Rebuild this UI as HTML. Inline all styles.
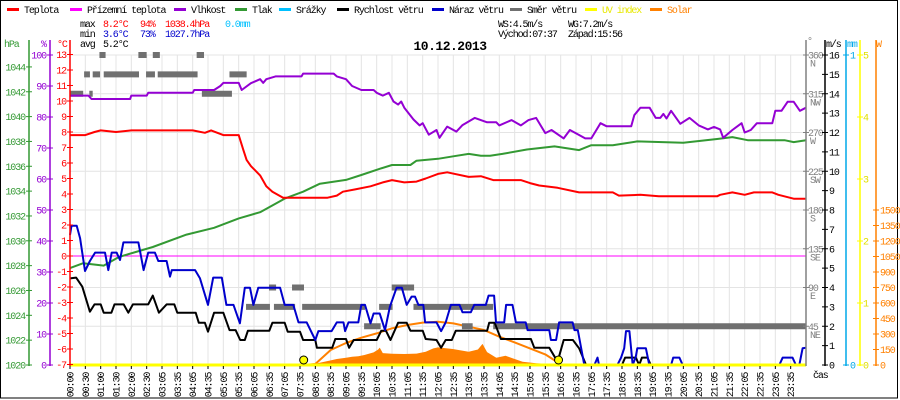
<!DOCTYPE html>
<html><head><meta charset="utf-8"><style>
html,body{margin:0;padding:0;background:#fff;}
svg{display:block;}
text{font-family:"Liberation Mono",monospace;font-size:10px;letter-spacing:-1.1px;}
</style></head><body>
<svg id="chart" width="900" height="400" viewBox="0 0 900 400" xmlns="http://www.w3.org/2000/svg">
<rect x="0.5" y="0.5" width="897" height="397.5" fill="#fff" stroke="#000"/>
<g id="grid"></g>
<g id="series"></g>
<g id="axes"></g>
<g id="legend"></g>
<g>
<text x="80" y="27" fill="#000">max</text><text x="103" y="27" fill="#f00">8.2°C</text><text x="140" y="27" fill="#f00">94%</text><text x="165" y="27" fill="#f00">1038.4hPa</text><text x="225" y="27" fill="#00c0ff">0.0mm</text>
<text x="80" y="37" fill="#000">min</text><text x="103" y="37" fill="#00c">3.6°C</text><text x="140" y="37" fill="#00c">73%</text><text x="165" y="37" fill="#00c">1027.7hPa</text>
<text x="80" y="47" fill="#000">avg</text><text x="103" y="47" fill="#000">5.2°C</text>
<text x="498" y="27" fill="#000">WS:4.5m/s</text><text x="568" y="27" fill="#000">WG:7.2m/s</text>
<text x="498" y="37" fill="#000">Východ:07:37</text><text x="568" y="37" fill="#000">Západ:15:56</text>
</g>
<text x="450" y="50" text-anchor="middle" style="font-size:13px;font-weight:bold;letter-spacing:-0.5px">10.12.2013</text>
</svg>
<script>
var NS="http://www.w3.org/2000/svg";
// ---- data ----
var tempT=[0,0.5,0.8,1.0,1.5,2.0,3,4.0,4.4,4.6,5.0,5.5,5.65,5.76,5.9,6.2,6.4,6.6,6.95,8.4,8.7,8.9,9.3,9.8,10.2,10.5,10.9,11.3,11.6,12.0,12.3,13.0,13.4,13.8,14.7,15.0,15.3,15.9,16.6,17.7,17.9,18.6,19.2,21.1,21.2,21.6,22.0,22.3,22.9,23.1,23.6,24];
var tempV=[7.8,7.8,8.0,8.1,8.0,8.1,8.1,8.1,7.95,8.1,7.8,7.8,6.85,6.2,5.8,5.2,4.5,4.15,3.76,3.76,3.9,4.15,4.3,4.5,4.75,4.9,4.75,4.8,5.0,5.3,5.4,5.1,5.15,4.9,4.9,4.7,4.55,4.4,4.1,4.1,3.9,3.95,3.85,3.85,3.95,4.1,3.95,4.1,4.1,3.95,3.7,3.7];
var feelT=[0,6,12,18,24];
var feelV=[0,0,0,0,0];
var humT=[0,0.6,0.7,1.96,2.0,2.5,2.55,4.0,4.05,4.7,4.9,5.0,5.5,5.6,5.9,6.2,6.3,6.4,6.7,7.55,7.6,8.6,8.7,9.0,9.2,9.5,9.9,10.0,10.2,10.4,10.55,10.7,10.8,10.9,11.2,11.4,11.5,11.7,11.95,12.05,12.3,12.6,12.8,13.2,13.6,13.9,14.0,14.4,14.7,14.95,15.2,15.5,15.7,16.1,16.3,16.6,16.8,17.0,17.3,17.5,17.9,18.3,18.4,18.6,18.9,19.1,19.25,19.35,19.45,19.6,19.9,20.2,20.5,20.8,21.0,21.2,21.3,21.6,21.9,22.0,22.2,22.4,22.9,23.0,23.2,23.4,23.6,23.8,24];
var humV=[86.9,86.9,85.8,85.8,86.9,86.9,87.8,87.8,88.7,88.7,90,91,91,88.7,90.9,92.2,91,92.2,93.1,93.1,94,94,93.1,92.2,90,88.7,88.7,87.8,86.9,87.8,85,84,85,83,79.2,77.3,78,74.3,75.8,73.3,76.9,75.3,77.4,79.7,78.3,78.3,77.3,79,77.3,79,79.7,74.8,75.8,73.1,75.8,74.2,73.1,73.1,78,77,77,77,80.6,83,83,79.7,79.7,81,79.5,82,77.8,79.7,77.3,76,76.8,76,73.3,75.8,78,75,75.8,78,78,82,82,84.9,84.9,82,83];
var presT=[0,0.43,1.1,1.6,2.7,3.8,4.7,5.5,6.2,7.0,7.6,8.15,9.0,9.5,10.1,10.5,11.1,11.3,12.0,12.5,13.0,13.4,13.7,14.1,14.9,15.8,16.6,17.0,17.7,18.5,20.0,21.1,21.6,22.1,23.3,23.6,24];
var presV=[1027.8,1028.2,1028.0,1028.7,1029.5,1030.5,1031.05,1031.8,1032.3,1033.4,1033.95,1034.6,1034.9,1035.3,1035.8,1036.1,1036.1,1036.45,1036.6,1036.8,1037.0,1036.85,1036.85,1037.0,1037.35,1037.6,1037.3,1037.7,1037.7,1038.0,1037.9,1038.2,1038.35,1038.1,1038.1,1037.95,1038.1];
var windT=[0,0.2,0.4,0.65,0.8,1.0,1.1,1.35,1.45,1.75,1.9,2.05,2.55,2.7,2.9,3.15,3.4,3.5,4.1,4.2,4.4,4.5,4.7,5.0,5.2,5.4,5.55,5.7,5.8,6.5,6.6,7.0,7.1,7.5,7.6,8.0,8.05,8.55,8.65,9.0,9.1,9.25,10.0,10.15,10.3,10.45,10.7,10.98,11.1,11.5,11.6,11.95,12.1,12.25,12.45,12.58,13.6,13.67,13.85,14.05,15.03,15.14,15.63,15.9,16.1,16.4,16.6,16.83,18.0,18.1,18.45,18.56,18.65,18.83,18.94,24];
var windV=[4.47,4.51,4.04,2.75,3.13,3.13,2.70,2.70,3.13,3.13,2.70,3.13,3.13,3.58,2.70,3.13,3.13,2.70,2.70,2.18,2.18,1.72,2.70,2.70,1.80,1.80,1.29,1.29,1.77,1.77,2.18,2.18,1.72,1.72,1.29,1.29,0.89,0.89,1.34,1.34,0.89,1.29,1.29,1.77,1.77,1.29,2.18,2.18,1.77,1.77,1.34,1.29,0.89,1.29,1.29,1.77,1.77,2.18,2.18,1.34,1.34,0.89,0.89,0.17,1.29,1.29,0.86,0,0,0.38,0.38,0,0.38,0.38,0,0];
var gustT=[0,0.05,0.22,0.33,0.49,0.65,0.82,1.14,1.25,1.36,1.52,1.63,1.74,2.23,2.4,2.55,2.77,2.88,3.15,3.26,3.32,4.08,4.24,4.5,4.67,4.95,5.1,5.33,5.54,5.7,5.87,5.98,6.14,6.85,7.0,7.28,7.45,7.72,8.0,8.1,8.53,8.7,8.92,8.97,9.08,9.4,9.5,9.62,9.8,9.9,10.1,10.27,10.43,10.65,10.82,10.98,11.14,11.25,11.36,11.52,11.58,11.95,12.1,12.25,12.42,12.7,12.8,13.07,13.18,13.56,13.65,13.83,13.89,14.16,14.22,14.43,14.54,14.86,14.92,15.63,15.68,15.85,15.95,16.39,16.45,16.56,16.77,17.1,17.2,17.25,17.85,17.97,18.07,18.13,18.24,18.35,18.45,18.5,18.78,18.89,19.6,19.67,19.87,19.98,23.13,23.24,23.56,23.67,23.78,23.89,24];
var gustV=[6.71,7.19,7.19,6.54,4.85,5.37,5.80,5.80,4.90,5.80,5.80,5.42,6.33,6.33,4.90,5.80,5.80,5.37,5.37,4.56,4.90,4.90,4.47,3.10,4.51,4.51,3.10,3.10,2.15,3.99,3.99,3.10,3.99,3.99,3.10,3.10,2.20,2.20,1.29,1.75,1.75,2.20,2.20,1.75,2.20,2.20,3.10,3.10,2.15,2.66,2.66,1.80,3.01,3.99,3.99,3.10,3.53,3.53,3.10,3.10,2.20,2.20,1.75,2.20,3.10,3.10,2.72,2.72,3.10,3.10,3.58,3.58,2.20,2.20,3.10,3.10,2.20,2.20,1.80,1.80,1.29,1.29,2.20,2.20,1.80,1.80,0,0,0.38,0,0,0.38,0.86,1.75,1.75,0,0.43,0.86,0.86,0,0,0.38,0.38,0,0,0.38,0.38,0,0,0.86,0.89];
var dirStart=[0,0.63,0.46,0.74,0.96,1.1,2.23,2.48,2.7,2.86,4.13,4.3,5.2,5.74,6.49,6.65,7.24,7.57,9.59,10.08,10.49,11.2,12.78,13.8];
var dirEnd=[0.43,0.74,0.65,0.98,1.16,2.25,2.5,2.77,2.93,4.16,4.37,5.28,5.76,6.52,6.72,7.34,7.63,9.62,10.13,10.52,11.22,13.8,13.13,24];
var dirDeg=[315,315,337.5,337.5,360,337.5,360,337.5,360,337.5,360,315,337.5,67.5,90,67.5,90,67.5,45,67.5,90,67.5,45,45];
var solarT=[7.8,8.2,8.5,8.7,9.0,9.2,9.4,9.6,9.9,10.05,10.1,10.2,10.5,10.9,11.3,11.6,11.85,12.0,12.48,13.0,13.3,13.45,13.6,13.9,14.2,14.43,14.76,15.2,15.7,15.9];
var solarV=[0,25,45,58,70,80,85,97,122,150,168,115,108,106,110,129,161,170,155,129,150,204,125,71,90,65,32,16,10,0];
var clearT=[7.62,8.0,8.5,9,9.5,10,10.5,11,11.5,12,12.5,13,13.5,14,14.5,15,15.5,15.93];
var clearV=[0,10,145,213,264,306,355,387,410,419,403,371,339,274,219,161,103,20];
var uvT=[0,24];
var uvV=[0,0];
var sunEvents=[7.62,15.93];
var timeLabels=["00:00","00:30","01:00","01:30","02:00","02:30","03:05","03:35","04:05","04:35","05:05","05:35","06:05","06:35","07:05","07:35","08:05","08:35","09:05","09:35","10:05","10:35","11:05","11:35","12:05","12:35","13:05","13:35","14:05","14:35","15:05","15:35","16:05","16:35","17:05","17:35","18:05","18:35","19:05","19:35","20:05","20:35","21:05","21:35","22:05","22:35","23:05","23:35"];
var hpaTicks=[1020,1022,1024,1026,1028,1030,1032,1034,1036,1038,1040,1042,1044];
var pctTicks=[0,10,20,30,40,50,60,70,80,90,100];
var degCTicks=[-7,-6,-5,-4,-3,-2,-1,0,1,2,3,4,5,6,7,8,9,10,11,12,13];
var dirTicks=[45,90,135,180,225,270,315,360];
var dirNames=["NE","E","SE","S","SW","W","NW","N"];
var msTicks=[0,1,2,3,4,5,6,7,8,9,10,11,12,13,14,15,16];
var mmTicks=[0,1];
var uvTicks=[0,1,2,3,4,5];
var wTicks=[0,150,300,450,600,750,900,1050,1200,1350,1500];

// ---- scales ----
function X(t){return 70+t*30.667;}
function yT(c){return 256-c*15.5;}
function yH(h){return 365-h*3.1;}
function yP(p){return 365-(p-1020)*12.42;}
function yV(v){return 365-v*19.375;}
function yD(d){return 365-d*0.8611;}
function yW(w){return 365-w*0.10333;}
function yMM(m){return 365-m*310;}
function yUV(u){return 365-u*62;}

function mk(tag,attrs,parent){var e=document.createElementNS(NS,tag);for(var k in attrs)e.setAttribute(k,attrs[k]);parent.appendChild(e);return e;}
var grid=document.getElementById('grid'),series=document.getElementById('series'),axes=document.getElementById('axes'),legend=document.getElementById('legend');

// grid
for(var i=1;i<=48;i++){var g=mk('line',{x1:X(i*0.5),x2:X(i*0.5),y1:55,y2:365,stroke:'#e4e4e4'},grid);

}
dirTicks.forEach(function(d){var g=mk('line',{x1:70,x2:806,y1:yD(d),y2:yD(d),stroke:'#e4e4e4'},grid);

});

function line(T,V,ys,color,w,name){var d='';for(var i=0;i<T.length;i++)d+=(i?'L':'M')+X(T[i]).toFixed(1)+' '+ys(V[i]).toFixed(1);
var p=mk('path',{d:d,fill:'none',stroke:color,'stroke-width':w,'stroke-linejoin':'round'},series);

return p;}

// solar area
(function(){var d='M'+X(solarT[0]).toFixed(1)+' 365';for(var i=0;i<solarT.length;i++)d+='L'+X(solarT[i]).toFixed(1)+' '+yW(solarV[i]).toFixed(1);d+='L'+X(solarT[solarT.length-1]).toFixed(1)+' 365Z';
var p=mk('path',{d:d,fill:'#ff8000'},series);

})();
line(clearT,clearV,yW,'#ff8000',2,'solar-theoretical-line');
// wind direction bars
for(var i=0;i<dirDeg.length;i++){var r=mk('rect',{x:X(dirStart[i]),y:yD(dirDeg[i])-3,width:X(dirEnd[i])-X(dirStart[i]),height:6,fill:'#707070'},series);

}
line(feelT,feelV,yT,'#ff00ff',1,'apparent-temperature-line');
line(presT,presV,yP,'#339933',2,'pressure-line');
line(humT,humV,yH,'#9400d3',2,'humidity-line');
line(tempT,tempV,yT,'#ff0000',2,'temperature-line');
line(windT,windV,yV,'#000',2,'wind-speed-line');
line(gustT,gustV,yV,'#0000cc',2,'wind-gust-line');
line(uvT,uvV,yUV,'#ffff00',3,'uv-index-line');
sunEvents.forEach(function(t){var c=mk('circle',{cx:X(t),cy:360,r:4,fill:'#ffff00',stroke:'#000','stroke-width':1},series);

});

// axes
function vaxis(x,color,name){var l=mk('line',{x1:x,x2:x,y1:40,y2:366,stroke:color,'stroke-width':1.5},axes);

}
function txt(x,y,s,color,anchor,name){var t=mk('text',{x:x,y:y,fill:color,'text-anchor':anchor||'start'},axes);t.textContent=s;

return t;}
function tick(x1,x2,y,color){mk('line',{x1:x1,x2:x2,y1:y,y2:y,stroke:color},axes);}
vaxis(29,'#339933','hpa-axis');vaxis(50,'#9400d3','humidity-axis');vaxis(70,'#ff0000','celsius-axis');
vaxis(806,'#808080','direction-axis');vaxis(825,'#000','wind-speed-axis');vaxis(846,'#00a8e8','rain-axis');vaxis(860,'#ffff00','uv-axis');vaxis(876,'#ff8000','solar-axis');
txt(4,47,'hPa','#339933','start','hpa-axis-title');txt(41,47,'%','#9400d3','start','humidity-axis-title');txt(57,47,'°C','#ff0000','start','celsius-axis-title');
txt(807,44,'°','#808080','start','direction-axis-title');txt(826,47,'m/s','#000','start','wind-speed-axis-title');txt(847,47,'mm','#00a8e8','start','rain-axis-title');txt(876,47,'W','#ff8000','start','solar-axis-title');
hpaTicks.forEach(function(v){var y=yP(v);tick(26,32,y,'#339933');txt(25,y+3.5,String(v),'#339933','end','hpa-tick-label');});
pctTicks.forEach(function(v){var y=yH(v);tick(47,53,y,'#9400d3');txt(46,y+3.5,String(v),'#9400d3','end','humidity-tick-label');});
degCTicks.forEach(function(v){var y=yT(v);tick(67,73,y,'#ff0000');txt(66,y+3.5,String(v),'#ff0000','end','celsius-tick-label');});
dirTicks.forEach(function(v,i){var y=yD(v);tick(803,809,y,'#808080');txt(808,y+3.5,String(v),'#808080','start','direction-tick-label');txt(810,y+11.5,dirNames[i],'#808080','start','direction-name-label');});
msTicks.forEach(function(v){var y=yV(v);tick(822,828,y,'#000');txt(829,y+3.5,String(v),'#000','start','wind-speed-tick-label');});
mmTicks.forEach(function(v){var y=yMM(v);tick(843,849,y,'#00a8e8');txt(850,y+3.5,String(v),'#00a8e8','start','rain-tick-label');});
uvTicks.forEach(function(v){var y=yUV(v);tick(857,863,y,'#ffff00');txt(863,y+3.5,String(v),'#e0e000','start','uv-tick-label');});
wTicks.forEach(function(v){var y=yW(v);tick(873,879,y,'#ff8000');txt(880,y+3.5,String(v),'#ff8000','start','solar-tick-label');});
timeLabels.forEach(function(s,i){var x=X(i*0.5);tick(0,0,0,'none');mk('line',{x1:x,x2:x,y1:366,y2:369,stroke:'#000'},axes);
var t=mk('text',{x:0,y:0,fill:'#000','text-anchor':'middle',transform:'translate('+(x+3.5)+',385) rotate(-90)'},axes);t.textContent=s;

});
txt(813,378,'čas','#000','start','x-axis-title');

// legend
var legItems=[['Teplota','#ff0000',7],['Přízemní teplota','#ff00ff',70],['Vlhkost','#9400d3',174],['Tlak','#339933',235],['Srážky','#00c0ff',279],['Rychlost větru','#000',337],['Náraz větru','#0000cc',432],['Směr větru','#707070',510],['UV index','#ffff00',585],['Solar','#ff8000',650]];
legItems.forEach(function(it){var g=mk('g',{},legend);


mk('rect',{x:it[2],y:8,width:12,height:3,fill:it[1]},g);
var t=mk('text',{x:it[2]+17,y:13,fill:(it[0]==='UV index'?'#e8e800':(it[0]==='Solar'?'#ff8000':'#000'))},g);t.textContent=it[0];});
</script>
</body></html>
